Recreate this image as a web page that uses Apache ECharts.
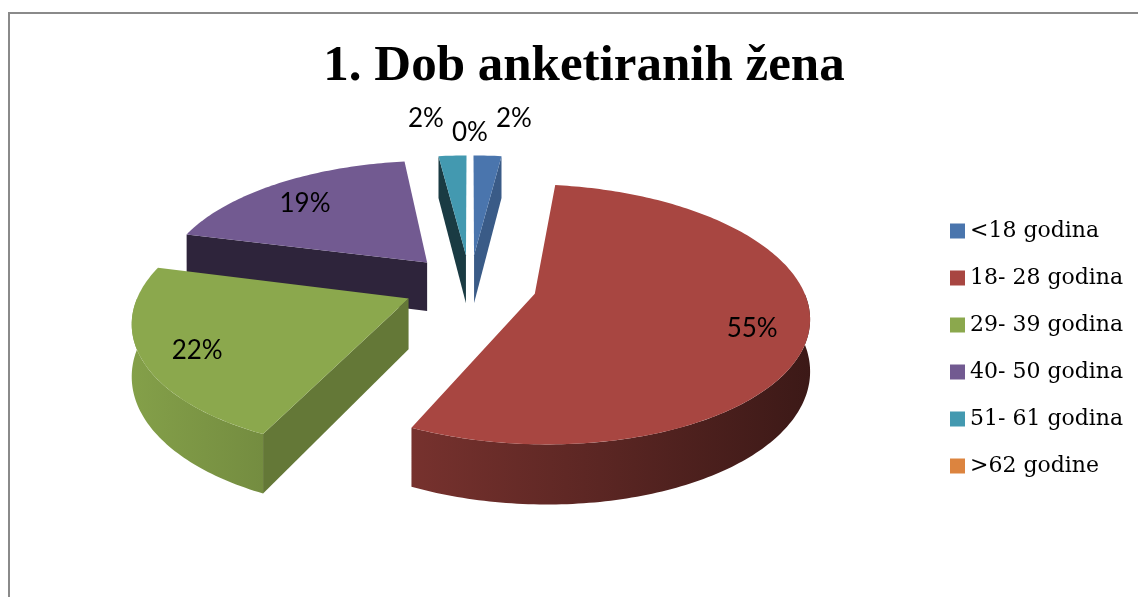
<!DOCTYPE html>
<html>
<head>
<meta charset="utf-8">
<title>1. Dob anketiranih žena</title>
<script src="https://cdn.jsdelivr.net/npm/echarts@6/dist/echarts.min.js"></script>
<style>
  html, body { margin: 0; padding: 0; background: #ffffff; }
  #chart { width: 1138px; height: 597px; }
</style>
</head>
<body>
<div id="chart"></div>
<script>
var categories = ['<18 godina', '18- 28 godina', '29- 39 godina', '40- 50 godina', '51- 61 godina', '>62 godine'];
var values = [2, 55, 22, 19, 2, 0];

var palette = ['#4A75AD', '#A84641', '#8BA84D', '#725A91', '#4399B0', '#DC843F'];

// izgled 3D pite (elipsa + malo perspektive)
var pie = { cx: 470, cy: 285, rx: 267, ry: 124, persp: 0.157, depth: 50, explode: 0.25 };

var total = values.reduce(function (s, v) { return s + v; }, 0);
var slices = [];
var acc = 0;
values.forEach(function (v) {
    var s = acc / total * 360;
    acc += v;
    var e = acc / total * 360;
    slices.push({ start: s, end: e, mid: (s + e) / 2, share: v / total });
});

// redoslijed crtanja: straznji dijelovi prvi
var order = slices.map(function (sl, i) { return i; }).sort(function (a, b) {
    return -Math.cos(slices[a].mid * Math.PI / 180) + Math.cos(slices[b].mid * Math.PI / 180);
});
var rank = [];
order.forEach(function (idx, r) { rank[idx] = r; });

function proj(a, b, h) {
    var p = 1 / (1 - pie.persp * b);
    return [pie.cx + pie.rx * a * p, pie.cy + (pie.ry * b + h) * p];
}
function rim(sl, deg, r, h) {
    var t = deg * Math.PI / 180, m = sl.mid * Math.PI / 180;
    var oa = pie.explode * Math.sin(m), ob = -pie.explode * Math.cos(m);
    return proj(oa + r * Math.sin(t), ob - r * Math.cos(t), h);
}
function arc(sl, from, to, h) {
    var pts = [];
    var n = Math.max(2, Math.ceil(to - from) + 1);
    for (var i = 0; i < n; i++) {
        pts.push(rim(sl, from + (to - from) * i / (n - 1), 1, h));
    }
    return pts;
}
function shade(hex, f) {
    var c = parseInt(hex.slice(1), 16);
    var r = Math.round(((c >> 16) & 255) * f), g = Math.round(((c >> 8) & 255) * f), b = Math.round((c & 255) * f);
    return 'rgb(' + r + ',' + g + ',' + b + ')';
}

// pozicije postotaka
var labelPos = slices.map(function (sl) {
    if (sl.share >= 0.1) {
        var p = rim(sl, sl.mid, 0.8, 0);
        return [p[0], p[1] + 6];
    }
    return rim(sl, sl.mid, 1.45, 0);
});
var outside = [];
slices.forEach(function (sl, i) { if (sl.share < 0.1) outside.push(i); });
outside.sort(function (a, b) { return labelPos[a][0] - labelPos[b][0]; });
var minGap = 44;
var crowded = false;
for (var k = 1; k < outside.length; k++) {
    if (labelPos[outside[k]][0] - labelPos[outside[k - 1]][0] < minGap) crowded = true;
}
if (crowded) {
    var meanX = outside.reduce(function (s, i) { return s + labelPos[i][0]; }, 0) / outside.length;
    outside.forEach(function (idx, j) {
        // srednja oznaka malo nize, kao u Excelu
        var mid = (j === (outside.length - 1) / 2) ? 14 : 0;
        labelPos[idx] = [meanX + (j - (outside.length - 1) / 2) * minGap, labelPos[idx][1] + mid];
    });
}

function renderSlice(i) {
    return function (params, api) {
        var sl = slices[i];
        var base = palette[i];
        var zb = rank[i] * 10;
        var children = [];
        if (sl.end > sl.start) {
            // vanjski zid (samo prednja strana)
            var from = Math.max(sl.start, 90), to = Math.min(sl.end, 270);
            if (to > from) {
                var wall = arc(sl, from, to, 0).concat(arc(sl, from, to, pie.depth).reverse());
                children.push({
                    type: 'polygon',
                    shape: { points: wall },
                    style: {
                        fill: new echarts.graphic.LinearGradient(130, 0, 810, 0, [
                            { offset: 0, color: shade(base, 0.95) },
                            { offset: 1, color: shade(base, 0.36) }
                        ], true)
                    },
                    z2: zb + 1
                });
            }
            // bocni zidovi
            [[sl.start, -1], [sl.end, 1]].forEach(function (w) {
                var t = w[0] * Math.PI / 180;
                var na = w[1] * Math.cos(t), nb = w[1] * Math.sin(t);
                if (nb <= 0) return;
                var f = 0.6 + 0.2 * na - 0.15 * nb;
                children.push({
                    type: 'polygon',
                    shape: { points: [rim(sl, w[0], 0, 0), rim(sl, w[0], 1, 0), rim(sl, w[0], 1, pie.depth), rim(sl, w[0], 0, pie.depth)] },
                    style: { fill: shade(base, f) },
                    z2: zb + 1
                });
            });
            // gornja ploha
            children.push({
                type: 'polygon',
                shape: { points: [rim(sl, sl.start, 0, 0)].concat(arc(sl, sl.start, sl.end, 0)) },
                style: { fill: base },
                z2: zb + 2
            });
        }
        children.push({
            type: 'text',
            x: labelPos[i][0],
            y: labelPos[i][1],
            style: {
                text: Math.round(sl.share * 100) + '%',
                fontFamily: 'Lato',
                fontSize: 26,
                fill: '#000000',
                align: 'center',
                verticalAlign: 'middle'
            },
            z2: 200
        });
        return { type: 'group', children: children };
    };
}

var myChart = echarts.init(document.getElementById('chart'));

var option = {
    backgroundColor: '#ffffff',
    animation: false,
    title: {
        text: '1. Dob anketiranih žena',
        left: 579,
        top: 36,
        textAlign: 'center',
        textStyle: {
            fontFamily: 'Liberation Serif',
            fontWeight: 'bold',
            fontSize: 51,
            color: '#000000'
        }
    },
    legend: {
        orient: 'vertical',
        left: 945,
        top: 215,
        itemWidth: 15,
        itemHeight: 15,
        itemGap: 25,
        icon: 'rect',
        selectedMode: false,
        data: categories,
        textStyle: {
            fontFamily: 'DejaVu Serif',
            fontSize: 22,
            lineHeight: 22,
            color: '#000000'
        }
    },
    graphic: [{
        type: 'rect',
        silent: true,
        shape: { x: 9, y: 13, width: 1200, height: 700 },
        style: { fill: 'none', stroke: '#8a8a8a', lineWidth: 2 }
    }],
    series: categories.map(function (name, i) {
        return {
            type: 'custom',
            name: name,
            coordinateSystem: 'none',
            silent: true,
            itemStyle: { color: palette[i] },
            data: [values[i]],
            renderItem: renderSlice(i)
        };
    })
};

myChart.setOption(option);
</script>
</body>
</html>
